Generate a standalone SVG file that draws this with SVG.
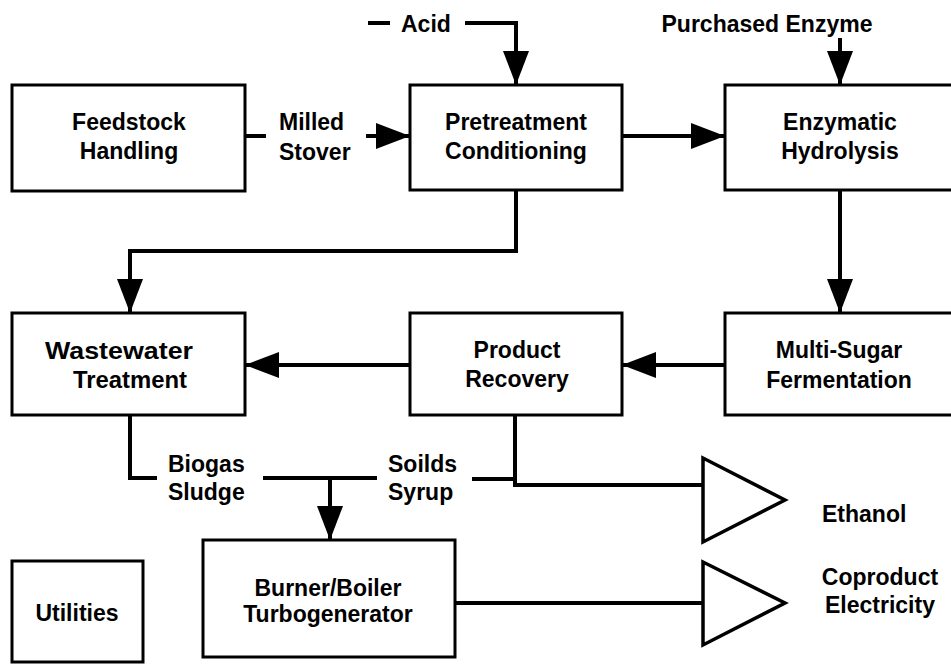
<svg xmlns="http://www.w3.org/2000/svg" width="951" height="664" viewBox="0 0 951 664">
<style>
.box{fill:#fff;stroke:#000;stroke-width:3}
.c{fill:none;stroke:#000;stroke-width:4}
.tri{fill:#fff;stroke:#000;stroke-width:3.5;stroke-linejoin:miter}
text{font-family:"Liberation Sans",Arial,Helvetica,sans-serif;font-weight:bold;font-size:23px;fill:#000}
.m{text-anchor:middle}
</style>
<defs>
<marker id="ah" markerUnits="userSpaceOnUse" markerWidth="34" markerHeight="26" refX="34" refY="13" orient="auto">
<path d="M0,0 L34,13 L0,26 z" fill="#000"/>
</marker>
</defs>
<rect width="951" height="664" fill="#fff"/>

<g id="connectors">
<path class="c" d="M245,136 H266"/>
<path class="c" d="M366,136 H410" marker-end="url(#ah)"/>
<path class="c" d="M368,23 H390"/>
<path class="c" d="M465,23 H516 V85" marker-end="url(#ah)"/>
<path class="c" d="M840,38 V85" marker-end="url(#ah)"/>
<path class="c" d="M622,136 H725" marker-end="url(#ah)"/>
<path class="c" d="M840,190 V313" marker-end="url(#ah)"/>
<path class="c" d="M725,365 H622" marker-end="url(#ah)"/>
<path class="c" d="M410,365 H245" marker-end="url(#ah)"/>
<path class="c" d="M516,190 V251 H130 V313" marker-end="url(#ah)"/>
<path class="c" d="M130,415 V478 H157"/>
<path class="c" d="M263,478 H377"/>
<path class="c" d="M330,478 V540" marker-end="url(#ah)"/>
<path class="c" d="M472,479 H515"/>
<path class="c" d="M515,415 V485 H703"/>
<path class="c" d="M455,603 H703"/>
</g>

<g id="feedstock"><rect class="box" x="12" y="85" width="233" height="106"/>
<text class="m" x="129" y="130">Feedstock</text><text class="m" x="129" y="159">Handling</text></g>

<g id="pretreatment"><rect class="box" x="410" y="85" width="212" height="105"/>
<text class="m" x="516" y="130">Pretreatment</text><text class="m" x="516" y="159">Conditioning</text></g>

<g id="enzymatic"><rect class="box" x="725" y="85" width="240" height="105"/>
<text class="m" x="840" y="130">Enzymatic</text><text class="m" x="840" y="159">Hydrolysis</text></g>

<g id="wastewater"><rect class="box" x="12" y="313" width="233" height="102"/>
<text class="m" x="119" y="359" textLength="148" lengthAdjust="spacingAndGlyphs">Wastewater</text><text class="m" x="130" y="388" textLength="114" lengthAdjust="spacingAndGlyphs">Treatment</text></g>

<g id="product"><rect class="box" x="410" y="313" width="212" height="102"/>
<text class="m" x="517" y="358">Product</text><text class="m" x="517" y="387">Recovery</text></g>

<g id="fermentation"><rect class="box" x="725" y="313" width="240" height="102"/>
<text class="m" x="839" y="358">Multi-Sugar</text><text class="m" x="839" y="388">Fermentation</text></g>

<g id="burner"><rect class="box" x="203" y="540" width="252" height="117"/>
<text class="m" x="328" y="596">Burner/Boiler</text><text class="m" x="328" y="622">Turbogenerator</text></g>

<g id="utilities"><rect class="box" x="12" y="561" width="131" height="101"/>
<text class="m" x="77" y="621">Utilities</text></g>

<g id="ethanol"><polygon class="tri" points="703,458 703,542 785,500"/>
<text x="822" y="522">Ethanol</text></g>

<g id="electricity"><polygon class="tri" points="703,562 703,645 785,603"/>
<text class="m" x="880" y="585">Coproduct</text><text class="m" x="880" y="613">Electricity</text></g>

<g id="labels">
<text x="401" y="32">Acid</text>
<text class="m" x="767" y="32">Purchased Enzyme</text>
<text x="279" y="130">Milled</text>
<text x="279" y="160">Stover</text>
<text x="168" y="472">Biogas</text>
<text x="168" y="500">Sludge</text>
<text x="388" y="472">Soilds</text>
<text x="388" y="500">Syrup</text>
</g>
</svg>
